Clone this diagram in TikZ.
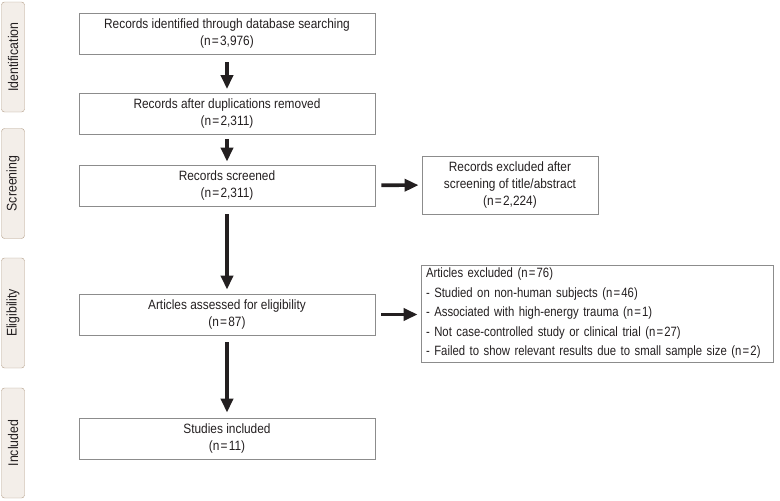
\documentclass[tikz,border=0pt]{standalone}
\usepackage{fontspec}
\setmainfont{Liberation Sans}[FakeStretch=0.88]
\newfontfamily\listfont{Liberation Sans}[FakeStretch=0.84]
\usepackage{tikz}
\usetikzlibrary{arrows.meta}
\definecolor{tabfill}{HTML}{F3EEE9}
\definecolor{tabline}{HTML}{B39E88}
\definecolor{boxline}{HTML}{8C8C8C}
\definecolor{ink}{HTML}{231F20}
\newcommand{\numeq}{\kern1.2pt=\kern1.2pt}

\begin{document}
\begin{tikzpicture}[x=1pt, y=-1pt,
    every node/.style={text=ink, font=\fontsize{13.5}{17}\selectfont},
    phase/.style={draw=tabline, fill=tabfill, rounded corners=3pt, rotate=90,
                  minimum width=110pt, minimum height=23pt, inner sep=0pt,
                  font=\fontsize{14}{17}\selectfont},
    mainbox/.style={draw=boxline, line width=0.8pt, align=center,
                    minimum width=296pt, minimum height=41pt, inner sep=0pt},
    sidebox/.style={draw=boxline, line width=0.8pt, inner sep=0pt},
    flow/.style={draw=ink, line width=3.6pt, -{Triangle[width=12pt,length=14pt]},
                 shorten <=8pt, shorten >=4pt}]

\useasboundingbox (0,0) rectangle (780,501);

% Phase tabs on the left
\node[phase] (identification) at (13,57)    {Identification};
\node[phase] (screening)      at (13,183.5) {Screening};
\node[phase] (eligibility)    at (13,313)   {Eligibility};
\node[phase] (included)       at (13,443)   {Included};

% Main column
\node[mainbox] (identified) at (227,33.5)  {Records identified through database searching\\(n\numeq3,976)};
\node[mainbox] (deduplicated) at (227,114) {Records after duplications removed\\(n\numeq2,311)};
\node[mainbox] (screened)   at (227,185.5) {Records screened\\(n\numeq2,311)};
\node[mainbox] (assessed)   at (227,314.5) {Articles assessed for eligibility\\(n\numeq87)};
\node[mainbox] (studies)    at (227,438.5) {Studies included\\(n\numeq11)};

% Exclusion boxes on the right
\node[sidebox, align=center, minimum width=176pt, minimum height=58pt]
    (excludedrecords) at (510,185) {Records excluded after\\screening of title/abstract\\(n\numeq2,224)};
\node[sidebox, align=left, minimum width=352pt, minimum height=97pt, text width=342pt,
      font=\listfont\fontsize{13.5}{17.5}\selectfont]
    (excludedarticles) at (597,313.5)
    {Articles excluded (n\numeq76)\\
     \kern2pt- Studied on non-human subjects (n\numeq46)\\
     \kern2pt- Associated with high-energy trauma (n\numeq1)\\
     \kern2pt- Not case-controlled study or clinical trial (n\numeq27)\\
     \kern2pt- Failed to show relevant results due to small sample size (n\numeq2)};

% Arrows
\draw[flow] (identified) -- (deduplicated);
\draw[flow, shorten <=4pt, shorten >=3pt] (deduplicated) -- (screened);
\draw[flow] (screened) -- (assessed);
\draw[flow, shorten <=7pt, shorten >=5pt] (assessed) -- (studies);
\draw[flow, shorten <=6pt, shorten >=3pt] (screened) -- (excludedrecords);
\draw[flow, shorten <=6pt, shorten >=3pt] (assessed.east) -- (assessed.east -| excludedarticles.west);

\end{tikzpicture}
\end{document}
